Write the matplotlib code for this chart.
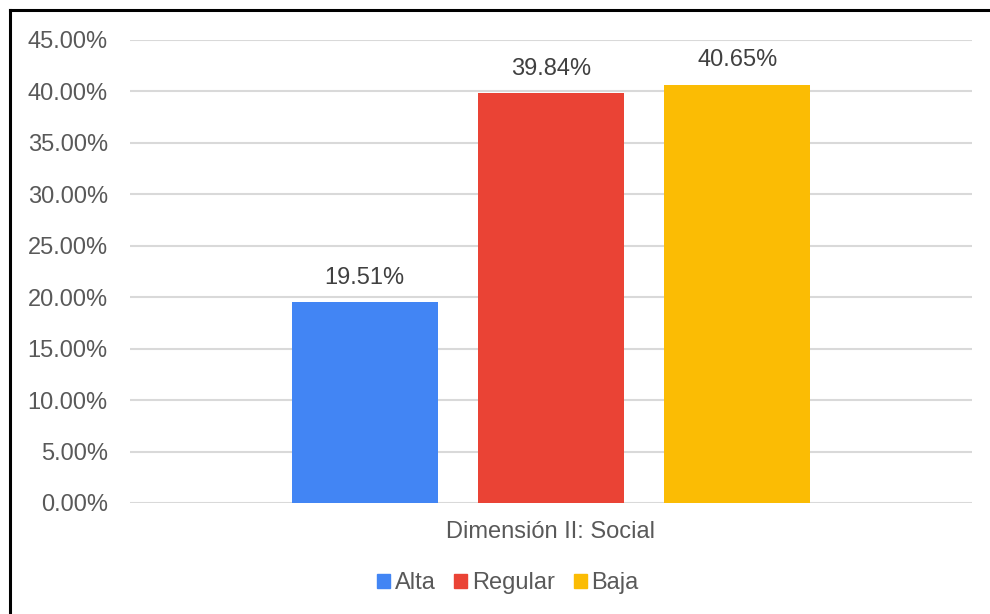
import matplotlib.pyplot as plt
from matplotlib.lines import Line2D
from matplotlib.patches import Patch

# datos
series = ['Alta', 'Regular', 'Baja']
valores = [19.51, 39.84, 40.65]
colores = ['#4285F4', '#EA4335', '#FBBC04']
categoria = 'Dimensión II: Social'
ticks = [0, 5, 10, 15, 20, 25, 30, 35, 40, 45]

plt.rcParams['font.family'] = ['Liberation Sans', 'DejaVu Sans']
gris = '#595959'
fs = 17

fig = plt.figure(figsize=(9.9, 6.14), dpi=100)
ax = fig.add_axes([0.1313, 0.1808, 0.8505, 0.7541])

posiciones = [-1, 0, 1]
barras = ax.bar(posiciones, valores, width=0.785, color=colores, zorder=3)
for b, v in zip(barras, valores):
    ax.text(b.get_x() + b.get_width() / 2, v + 1.3, f'{v:.2f}%',
            ha='center', va='bottom', fontsize=fs, color='#404040')

ax.set_xlim(-2.26, 2.26)
ax.set_ylim(0, 45)
ax.set_yticks(ticks)
ax.set_yticklabels([f'{t:.2f}%' for t in ticks], fontsize=fs, color=gris)
ax.set_xticks([0])
ax.set_xticklabels([categoria], fontsize=fs, color=gris)
ax.tick_params(axis='y', length=0, pad=16)
ax.tick_params(axis='x', length=0, pad=13)
ax.grid(axis='y', color='#d9d9d9', linewidth=1.5, zorder=0)
for s in ax.spines.values():
    s.set_visible(False)

handles = [Patch(color=c, label=s) for s, c in zip(series, colores)]
fig.legend(handles=handles, loc='center', bbox_to_anchor=(0.513, 0.0505), ncol=3,
           frameon=False, fontsize=fs, handlelength=0.55, handleheight=0.55,
           handletextpad=0.2, columnspacing=0.8, labelcolor=gris)

# marco
fig.add_artist(Line2D([0.0101, 1], [0.9837, 0.9837], color='black', lw=2.2,
                      transform=fig.transFigure))
fig.add_artist(Line2D([0.0101, 0.0101], [0, 0.9837], color='black', lw=2.2,
                      transform=fig.transFigure))

fig.savefig('out.png', dpi=100)
